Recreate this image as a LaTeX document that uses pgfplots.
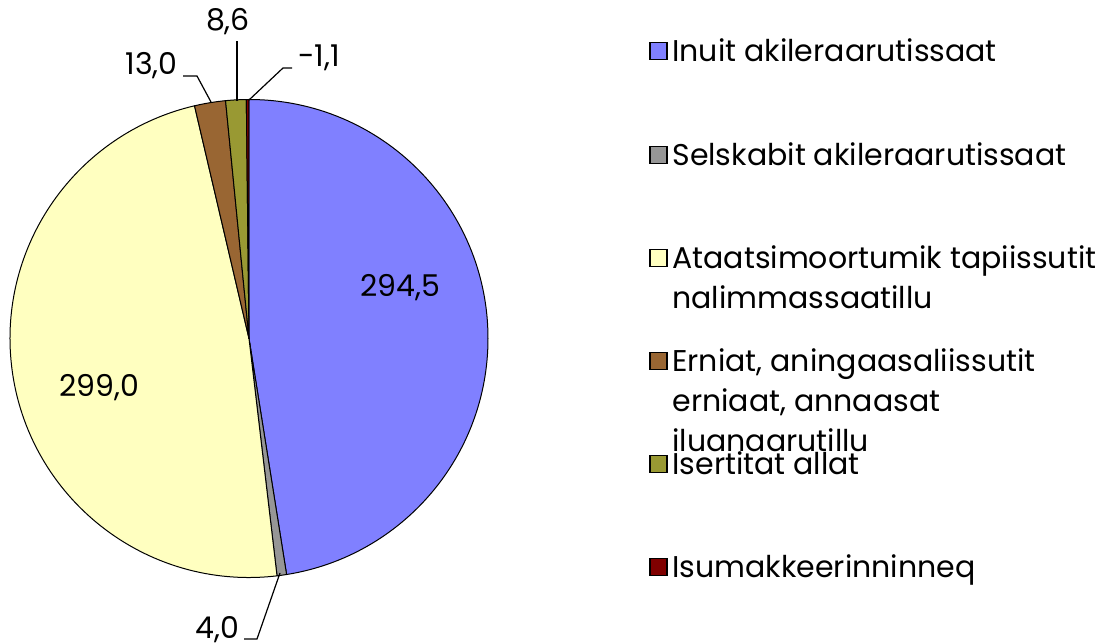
\documentclass[border=0pt]{standalone}
\usepackage{pgfplots}
\pgfplotsset{compat=1.18}
\usepackage{pgfplotstable}
\usepackage{fontspec}
\setmainfont{Poppins}

\definecolor{c0}{HTML}{8080FF}
\definecolor{c1}{HTML}{969696}
\definecolor{c2}{HTML}{FFFFC0}
\definecolor{c3}{HTML}{996633}
\definecolor{c4}{HTML}{999933}
\definecolor{c5}{HTML}{800000}

\pgfplotstableread{
value
294.5
4.0
299.0
13.0
8.6
-1.1
}\piedata

\begin{document}
\begin{tikzpicture}[font=\fontsize{15}{17}\selectfont]
\useasboundingbox (0,0) rectangle (555pt,321.5pt);
\gdef\total{0}
\foreach \i in {0,...,5}{
  \pgfplotstablegetelem{\i}{value}\of\piedata
  \pgfmathsetmacro\tt{\total+abs(\pgfplotsretval)}
  \xdef\total{\tt}
}
\gdef\cum{0}
\foreach \i in {0,...,5}{
  \pgfplotstablegetelem{\i}{value}\of\piedata
  \pgfmathsetmacro\ss{90-(\cum/\total)*360}
  \pgfmathsetmacro\cc{\cum+abs(\pgfplotsretval)}
  \xdef\cum{\cc}
  \pgfmathsetmacro\ee{90-(\cum/\total)*360}
  \expandafter\xdef\csname sA\i\endcsname{\ss}
  \expandafter\xdef\csname eA\i\endcsname{\ee}
}
\begin{axis}[at={(5pt,32.75pt)}, anchor=south west, scale only axis,
  width=239pt, height=239pt, xmin=-1, xmax=1, ymin=-1, ymax=1,
  hide axis, clip=false]
\foreach \i in {0,...,5}{
  \edef\tmp{\noexpand\fill[c\i, draw=black, line width=0.5pt, line join=round]
    (axis cs:0,0) -- (axis cs:{cos(\csname sA\i\endcsname)},{sin(\csname sA\i\endcsname)})
    arc[start angle=\csname sA\i\endcsname, end angle=\csname eA\i\endcsname, radius=119.5pt] -- cycle;}
  \tmp
}
\end{axis}
% data labels
\node at (200pt,177.5pt) {294,5};
\node at (49.5pt,127.5pt) {299,0};
\node[anchor=east, inner sep=1pt] at (121pt,6.5pt) {4,0};
\node[anchor=east, inner sep=1pt] at (90pt,288.5pt) {13,0};
\node at (114pt,310.5pt) {8,6};
\node[anchor=west, inner sep=1pt] at (148pt,292.5pt) {-1,1};
\draw[line width=0.6pt] (140pt,35pt) -- (128.5pt,2pt) -- (122pt,2pt);
\draw[line width=0.6pt] (105.5pt,270.5pt) -- (98.5pt,283.5pt) -- (91.5pt,283.5pt);
\draw[line width=0.6pt] (118.5pt,271pt) -- (118.5pt,301pt);
\draw[line width=0.6pt] (124.5pt,271.5pt) -- (141.5pt,287.5pt) -- (146pt,287.5pt);
% legend
\foreach \y/\c in {296/c0,244/c1,192.5/c2,141/c3,89.5/c4,38/c5}{
  \fill[\c, draw=black, line width=0.6pt] (325pt,\y pt-4.25pt) rectangle ++(8.5pt,8.5pt);
}
\node[anchor=base west, inner sep=0] at (336pt,290.5pt) {Inuit akileraarutissaat};
\node[anchor=base west, inner sep=0] at (336pt,238.5pt) {Selskabit akileraarutissaat};
\node[anchor=base west, inner sep=0] at (336pt,187pt) {Ataatsimoortumik tapiissutit};
\node[anchor=base west, inner sep=0] at (336pt,167pt) {nalimmassaatillu};
\node[anchor=base west, inner sep=0] at (336pt,135.5pt) {Erniat, aningaasaliissutit};
\node[anchor=base west, inner sep=0] at (336pt,115.5pt) {erniaat, annaasat};
\node[anchor=base west, inner sep=0] at (336pt,95.5pt) {iluanaarutillu};
\node[anchor=base west, inner sep=0] at (336pt,84pt) {Isertitat allat};
\node[anchor=base west, inner sep=0] at (336pt,32.5pt) {Isumakkeerinninneq};
\end{tikzpicture}
\end{document}
